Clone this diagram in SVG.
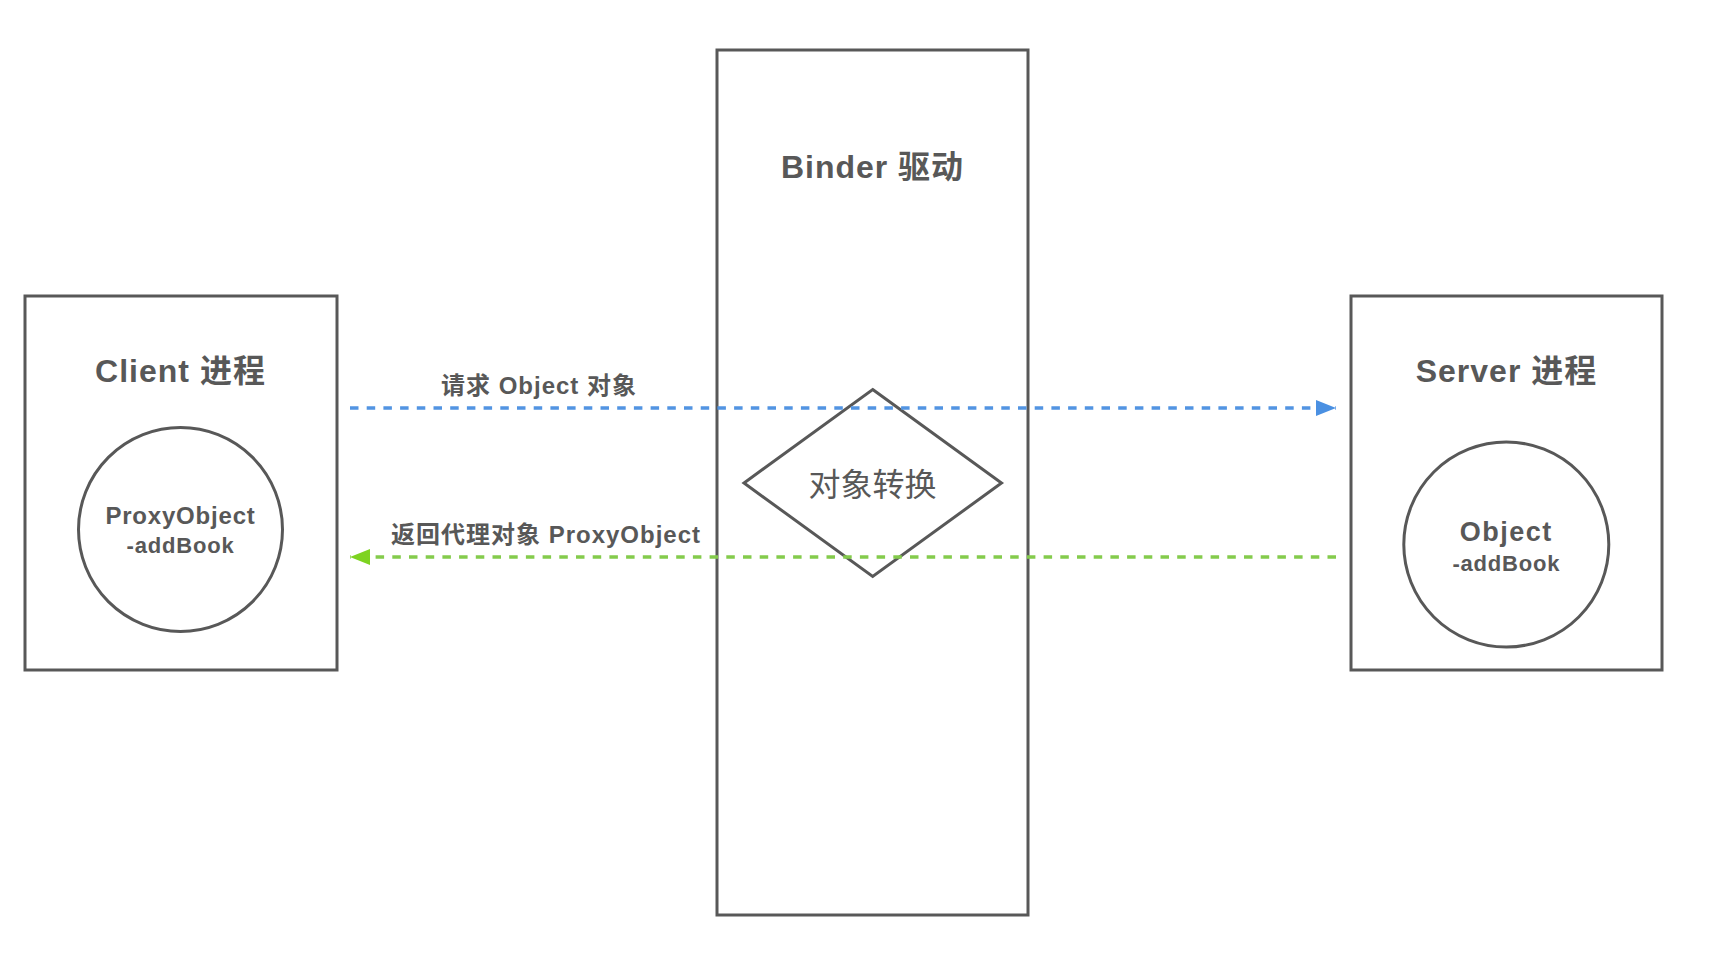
<svg xmlns="http://www.w3.org/2000/svg" width="1722" height="966" viewBox="0 0 1722 966">
  <style>
    .box { fill: none; stroke: #585858; stroke-width: 3; }
    .shape { fill: none; stroke: #585858; stroke-width: 3; }
    .t { font-family: "Liberation Sans", "Noto Sans CJK SC", sans-serif; fill: #585858; text-anchor: middle; }
    .title { font-size: 32px; font-weight: bold; letter-spacing: 1px; }
    .lbl { font-size: 24px; font-weight: bold; letter-spacing: 1px; }
    .obj { font-weight: bold; }
    .dia { font-size: 32px; font-weight: normal; }
    .req { fill: none; stroke: #5294E2; stroke-width: 3.5; stroke-dasharray: 8.5 8.2; }
    .ret { fill: none; stroke: #84CB4C; stroke-width: 3.5; stroke-dasharray: 8.5 8.2; }
  </style>
  <defs>
    <marker id="arrowBlue" markerUnits="userSpaceOnUse" viewBox="0 0 20 16" refX="20" refY="8" markerWidth="20" markerHeight="16" orient="auto">
      <path d="M0,0 L20,8 L0,16 Z" fill="#4A90E2"/>
    </marker>
    <marker id="arrowGreen" markerUnits="userSpaceOnUse" viewBox="0 0 20 16" refX="20" refY="8" markerWidth="20" markerHeight="16" orient="auto">
      <path d="M0,0 L20,8 L0,16 Z" fill="#7ED321"/>
    </marker>
  </defs>
  <rect x="0" y="0" width="1722" height="966" fill="#ffffff"/>

  <g id="binder">
    <rect class="box" x="717" y="50" width="311" height="865"/>
    <text class="t title" x="872.5" y="177.5">Binder 驱动</text>
  </g>

  <g id="convert">
    <polygon class="shape" points="872.7,389.5 1001.5,483 872.7,576.5 744,483"/>
    <text class="t dia" x="872.5" y="496">对象转换</text>
  </g>

  <g id="client">
    <rect class="box" x="25" y="296" width="312" height="374"/>
    <text class="t title" x="180.5" y="382">Client 进程</text>
  </g>

  <g id="proxy">
    <circle class="shape" cx="180.5" cy="529.5" r="102"/>
    <text class="t obj" x="180.5" y="524" font-size="24" letter-spacing="0.8">ProxyObject</text>
    <text class="t obj" x="180.5" y="553.3" font-size="22" letter-spacing="0.8">-addBook</text>
  </g>

  <g id="server">
    <rect class="box" x="1351" y="296" width="311" height="374"/>
    <text class="t title" x="1506.5" y="382">Server 进程</text>
  </g>

  <g id="object">
    <circle class="shape" cx="1506.3" cy="544.5" r="102.5"/>
    <text class="t obj" x="1506.3" y="541" font-size="27" letter-spacing="1.5">Object</text>
    <text class="t obj" x="1506.3" y="570.7" font-size="22" letter-spacing="0.8">-addBook</text>
  </g>

  <g id="connectors">
    <path class="req" d="M350,408 L1336,408" marker-end="url(#arrowBlue)"/>
    <path class="ret" d="M1336,557 L350,557" marker-end="url(#arrowGreen)"/>
    <text class="t lbl" x="539" y="393.5">请求 Object 对象</text>
    <text class="t lbl" x="546" y="543">返回代理对象 ProxyObject</text>
  </g>
</svg>
